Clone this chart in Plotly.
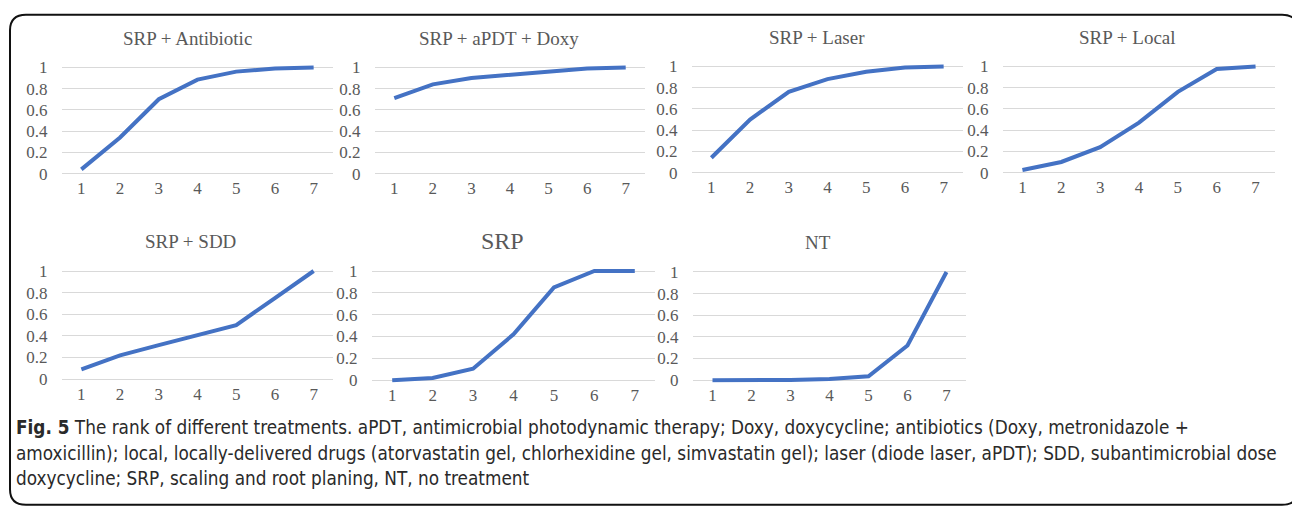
import plotly.graph_objects as go

W, H = 1292, 506

ranks = [1, 2, 3, 4, 5, 6, 7]
tick_labels = ["1", "2", "3", "4", "5", "6", "7"]
y_ticks = [0, 0.2, 0.4, 0.6, 0.8, 1]
y_tick_labels = ["0", "0.2", "0.4", "0.6", "0.8", "1"]

titles = ["SRP + Antibiotic", "SRP + aPDT + Doxy", "SRP + Laser", "SRP + Local",
          "SRP + SDD", "SRP", "NT"]

srp_antibiotic = [0.04, 0.34, 0.70, 0.885, 0.96, 0.99, 1.0]
srp_apdt_doxy = [0.71, 0.84, 0.90, 0.93, 0.96, 0.99, 1.0]
srp_laser = [0.14, 0.50, 0.76, 0.88, 0.95, 0.99, 1.0]
srp_local = [0.025, 0.10, 0.24, 0.47, 0.76, 0.975, 1.0]
srp_sdd = [0.09, 0.22, 0.315, 0.41, 0.50, 0.75, 1.0]
srp_only = [0.0, 0.02, 0.105, 0.42, 0.85, 1.0, 1.0]
nt = [0.0, 0.0, 0.002, 0.01, 0.035, 0.32, 1.0]

series = [srp_antibiotic, srp_apdt_doxy, srp_laser, srp_local, srp_sdd, srp_only, nt]


def px(x):
    return x / W


def py(y):
    return 1 - y / H


# panel geometry in page pixels: (grid x0, grid x1, y pixel of 1, y pixel of 0, title x, title y, title size)
panels = [
    (62, 333, 63, 172, 187, 33, 19),
    (375, 645, 63, 172, 499, 33, 19),
    (692, 963, 62, 171, 817, 32, 19),
    (1003, 1275, 62, 171, 1127, 32, 19),
    (62, 333, 272, 383, 190, 242, 19),
    (372, 655, 272, 384, 502, 241, 24),
    (693, 966, 273, 384, 818, 243, 19),
]

LINE = "#4472C4"
GRID = "#D9D9D9"
TXT = "#595959"
SERIF = "Liberation Serif, Times New Roman, serif"

fig = go.Figure()
layout = {}
annotations = []
pad = 0.025
for i, (vals, title, (gx0, gx1, p1, p0, tx, ty, ts)) in enumerate(zip(series, titles, panels)):
    n = "" if i == 0 else str(i + 1)
    span = p0 - p1
    top = p1 - pad * span
    bot = p0 + pad * span
    fig.add_trace(go.Scatter(x=ranks, y=vals, mode="lines",
                             line=dict(color=LINE, width=4),
                             xaxis="x" + n, yaxis="y" + n, showlegend=False,
                             hoverinfo="skip"))
    layout["xaxis" + n] = dict(domain=[px(gx0), px(gx1)], range=[0.5, 7.5],
                               anchor="y" + n, tickvals=ranks, ticktext=tick_labels,
                               showgrid=False, zeroline=False, showline=False,
                               ticks="", ticklabelstandoff=0,
                               tickfont=dict(family=SERIF, size=17, color=TXT),
                               fixedrange=True)
    layout["yaxis" + n] = dict(domain=[py(bot), py(top)], range=[-pad, 1 + pad],
                               anchor="x" + n, tickvals=y_ticks, ticktext=y_tick_labels,
                               showgrid=True, gridcolor=GRID, gridwidth=1,
                               zeroline=False, showline=False,
                               ticks="outside", ticklen=10, tickcolor="rgba(0,0,0,0)",
                               tickfont=dict(family=SERIF, size=17, color=TXT),
                               fixedrange=True)
    annotations.append(dict(text=title, x=px(tx), y=py(ty), xref="paper", yref="paper",
                            xanchor="center", yanchor="middle", showarrow=False,
                            font=dict(family=SERIF, size=ts, color=TXT)))

CAP_FONT = "Liberation Sans Narrow, DejaVu Sans Condensed, Arial Narrow, sans-serif"
caption_lines = [
    "<b>Fig. 5</b> The rank of different treatments. aPDT, antimicrobial photodynamic therapy; Doxy, doxycycline; antibiotics (Doxy, metronidazole +",
    "amoxicillin); local, locally-delivered drugs (atorvastatin gel, chlorhexidine gel, simvastatin gel); laser (diode laser, aPDT); SDD, subantimicrobial dose",
    "doxycycline; SRP, scaling and root planing, NT, no treatment",
]
caption_y = [433, 459, 485]
for line, cy in zip(caption_lines, caption_y):
    annotations.append(dict(text=line, x=px(14), y=py(cy), xref="paper", yref="paper",
                            xanchor="left", yanchor="middle", showarrow=False,
                            font=dict(family=CAP_FONT, size=18.8, color="#2a2a2a")))

# rounded frame (partly outside the visible page, as in the reference)
x0, x1, y0, y1, r = 10, 1298, 9, 512, 16
path = (f"M {px(x0 + r)},{py(y0)} L {px(x1 - r)},{py(y0)} "
        f"Q {px(x1)},{py(y0)} {px(x1)},{py(y0 + r)} L {px(x1)},{py(y1 - r)} "
        f"Q {px(x1)},{py(y1)} {px(x1 - r)},{py(y1)} L {px(x0 + r)},{py(y1)} "
        f"Q {px(x0)},{py(y1)} {px(x0)},{py(y1 - r)} L {px(x0)},{py(y0 + r)} "
        f"Q {px(x0)},{py(y0)} {px(x0 + r)},{py(y0)} Z")
shapes = [dict(type="path", path=path, xref="paper", yref="paper",
               line=dict(color="#111111", width=2), layer="below")]

fig.update_layout(width=W, height=H, margin=dict(l=0, r=0, t=0, b=0),
                  paper_bgcolor="white", plot_bgcolor="white",
                  annotations=annotations, shapes=shapes, **layout)

# remove the default page margin so the figure fills the window exactly
fig.write_html("out.html", config={"displayModeBar": False},
               post_script="document.body.style.margin='0';document.body.style.overflow='hidden';")
